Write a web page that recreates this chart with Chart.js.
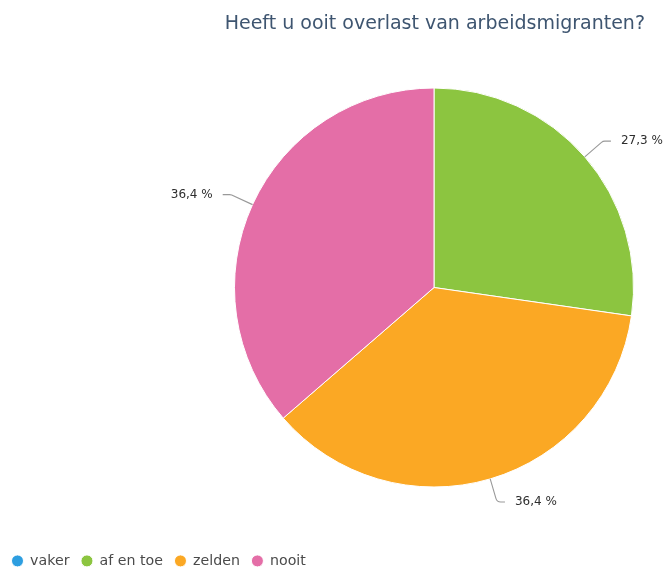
<!DOCTYPE html>
<html>
<head>
<meta charset="utf-8">
<script src="https://cdn.jsdelivr.net/npm/chart.js@4.4.1/dist/chart.umd.min.js"></script>
<style>
  html, body { margin: 0; padding: 0; background: #fff; }
  canvas { display: block; }
</style>
</head>
<body>
<canvas id="chart" width="668" height="567"></canvas>
<script>
const TITLE = 'Heeft u ooit overlast van arbeidsmigranten?';
const categories = ['vaker', 'af en toe', 'zelden', 'nooit'];
const percentages = [0, 27.3, 36.4, 36.4];
const colors = ['#2d9ee0', '#8cc540', '#fba824', '#e46ea7'];

// pie sits right of centre in the original, so pin the chart area after layout
const pieArea = {
  id: 'pieArea',
  afterLayout(chart) {
    const a = chart.chartArea;
    a.left = 234; a.right = 634;
    a.top = 87; a.bottom = 488;
    a.width = 400; a.height = 401;
  }
};

const titleText = {
  id: 'titleText',
  afterDraw(chart) {
    const ctx = chart.ctx;
    ctx.save();
    ctx.font = '19px "DejaVu Sans"';
    ctx.fillStyle = '#3e5570';
    ctx.textAlign = 'right';
    ctx.textBaseline = 'alphabetic';
    ctx.fillText(TITLE, 645, 29);
    ctx.restore();
  }
};

// percentage labels with leader lines
const sliceLabels = {
  id: 'sliceLabels',
  afterDatasetsDraw(chart) {
    const ctx = chart.ctx;
    const meta = chart.getDatasetMeta(0);
    ctx.save();
    ctx.font = '12px "DejaVu Sans"';
    ctx.textBaseline = 'middle';
    meta.data.forEach((arc, i) => {
      const v = percentages[i];
      if (!v) return;
      const p = arc.getProps(['x', 'y', 'startAngle', 'endAngle', 'outerRadius'], true);
      const mid = (p.startAngle + p.endAngle) / 2;
      const cos = Math.cos(mid), sin = Math.sin(mid);
      const x0 = p.x + cos * p.outerRadius, y0 = p.y + sin * p.outerRadius;
      const x1 = p.x + cos * (p.outerRadius + 24), y1 = p.y + sin * (p.outerRadius + 24);
      const right = cos >= 0;
      const x2 = x1 + (right ? 8 : -8);
      ctx.strokeStyle = '#999';
      ctx.lineWidth = 1.1;
      ctx.beginPath();
      ctx.moveTo(x0, y0);
      ctx.arcTo(x1, y1, x2, y1, 5);
      ctx.lineTo(x2, y1);
      ctx.stroke();
      ctx.fillStyle = '#2e2e2e';
      ctx.textAlign = right ? 'left' : 'right';
      ctx.fillText(v.toFixed(1).replace('.', ',') + ' %', x2 + (right ? 10 : -10), y1);
    });
    ctx.restore();
  }
};

new Chart(document.getElementById('chart'), {
  type: 'pie',
  data: {
    labels: categories,
    datasets: [{
      data: percentages,
      backgroundColor: colors,
      borderColor: '#fff',
      borderWidth: 1
    }]
  },
  options: {
    responsive: false,
    devicePixelRatio: 1,
    animation: false,
    layout: { padding: { bottom: -11 } },
    plugins: {
      title: { display: false },
      tooltip: { enabled: false },
      legend: {
        position: 'bottom',
        align: 'start',
        labels: {
          usePointStyle: true,
          pointStyle: 'circle',
          boxWidth: 11,
          boxHeight: 8.5,
          padding: 12,
          color: '#4a4a4a',
          font: { family: 'DejaVu Sans', size: 14.2 }
        }
      }
    }
  },
  plugins: [pieArea, sliceLabels, titleText]
});
</script>
</body>
</html>
